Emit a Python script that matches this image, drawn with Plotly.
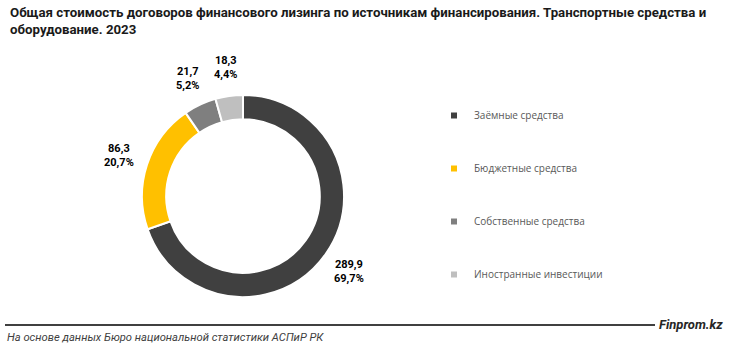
import math
import plotly.graph_objects as go

labels = ["Заёмные средства", "Бюджетные средства", "Собственные средства", "Иностранные инвестиции"]
values = [289.9, 86.3, 21.7, 18.3]
colors = ["#404040", "#FFC000", "#7F7F7F", "#BFBFBF"]

W, H = 731, 348
cx, cy, R = 243, 196, 101
label_dist = 130  # distance of value labels from the donut centre (px)

fig = go.Figure()
fig.add_trace(go.Pie(
    labels=labels, values=values, sort=False, direction="clockwise", rotation=0,
    hole=0.76,
    marker=dict(colors=colors, line=dict(color="white", width=2)),
    textinfo="none",
    showlegend=False,
    domain=dict(x=[(cx - R) / W, (cx + R) / W], y=[1 - (cy + R) / H, 1 - (cy - R) / H]),
))

for lab, col in zip(labels, colors):
    fig.add_trace(go.Scatter(
        x=[None], y=[None], mode="markers", name=lab, legendgroup=lab,
        marker=dict(symbol="square", size=6, color=col),
    ))

# value labels positioned from the data (mid-angle of each slice)
total = sum(values)
annotations = []
cum = 0.0
for v in values:
    mid = (cum + v / 2) / total * 2 * math.pi
    cum += v
    px = cx + label_dist * math.sin(mid)
    py = cy - label_dist * math.cos(mid)
    txt = f"<b>{v:.1f}".replace(".", ",") + "<br>" + f"{v / total * 100:.1f}%".replace(".", ",") + "</b>"
    annotations.append(dict(xref="paper", yref="paper", x=px / W, y=1 - py / H,
                            xanchor="center", yanchor="middle", showarrow=False, text=txt,
                            font=dict(family="Roboto", size=11, color="#000000")))

annotations += [
    dict(xref="paper", yref="paper", x=8 / W, y=1 - 3 / H, xanchor="left", yanchor="top",
         align="left", showarrow=False,
         text="<b>Общая стоимость договоров финансового лизинга по источникам финансирования. Транспортные средства и<br>оборудование. 2023</b>",
         font=dict(family="Roboto", size=13.25, color="#1a1a1a")),
    dict(xref="paper", yref="paper", x=725 / W, y=1 - 324 / H, xanchor="right", yanchor="middle",
         showarrow=False, text="<b><i>Finprom.kz</i></b>",
         font=dict(family="Roboto", size=13, color="#262626")),
    dict(xref="paper", yref="paper", x=5 / W, y=1 - 337 / H, xanchor="left", yanchor="middle",
         showarrow=False, text="<i>На основе данных Бюро национальной статистики АСПиР РК</i>",
         font=dict(family="Roboto", size=11.2, color="#404040")),
]

fig.update_layout(
    width=W, height=H,
    margin=dict(l=0, r=0, t=0, b=0),
    paper_bgcolor="white", plot_bgcolor="white",
    xaxis=dict(visible=False), yaxis=dict(visible=False),
    legend=dict(x=434 / W, y=1 - 101 / H, xanchor="left", yanchor="top",
                font=dict(family="Open Sans", size=10, color="#595959"),
                tracegroupgap=34, itemwidth=30, bgcolor="rgba(0,0,0,0)"),
    shapes=[dict(type="line", xref="paper", yref="paper",
                 x0=5 / W, x1=655 / W, y0=1 - 325 / H, y1=1 - 325 / H,
                 line=dict(color="#404040", width=2))],
    annotations=annotations,
)

fig.write_html("out.html")
